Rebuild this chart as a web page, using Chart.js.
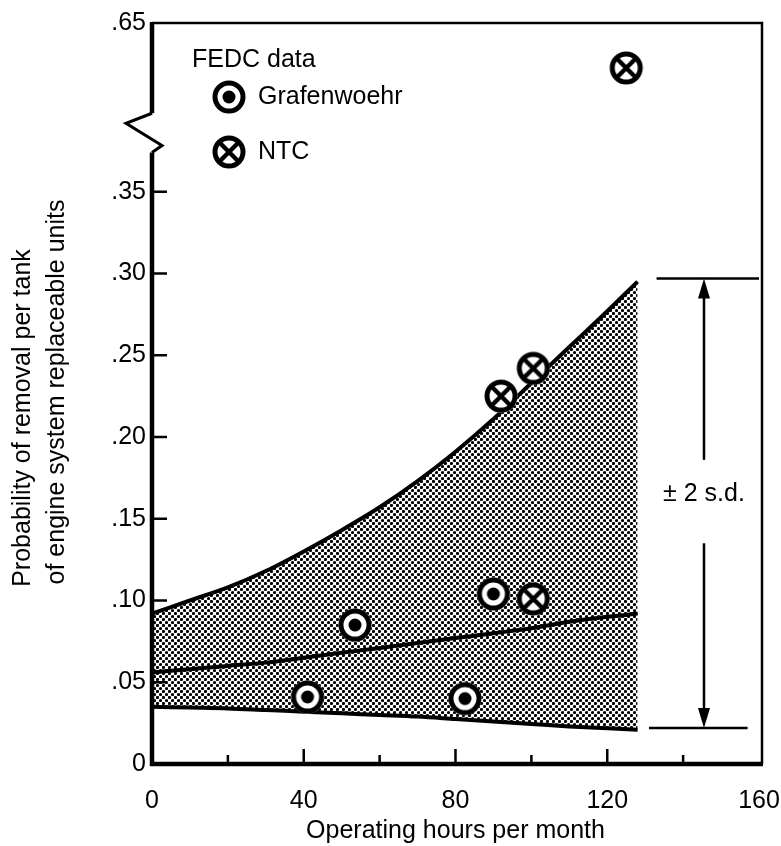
<!DOCTYPE html>
<html>
<head>
<meta charset="utf-8">
<title>Probability of removal per tank</title>
<script src="https://cdn.jsdelivr.net/npm/chart.js@4.4.0/dist/chart.umd.min.js"></script>
<style>
  html, body { margin: 0; padding: 0; background: #fff; }
  #wrap { width: 781px; height: 846px; }
</style>
</head>
<body>
<div id="wrap"><canvas id="myChart" width="781" height="846"></canvas></div>
<script>
/****************************** donnees ******************************/
const hours     = [0, 10, 20, 30, 40, 50, 60, 70, 80, 90, 100, 110, 120, 128];
const upperBand = [.092, .100, .108, .118, .130, .143, .157, .173, .191, .211, .233, .255, .277, .295];
const meanLine  = [.056, .058, .060, .062, .065, .068, .071, .074, .077, .080, .083, .087, .090, .092];
const lowerBand = [.035, .0345, .034, .033, .032, .031, .030, .029, .0275, .026, .0245, .023, .0218, .021];

const grafHours = [41, 53.5, 82.5, 90];
const grafProb  = [.041, .085, .040, .104];
const ntcHours  = [92, 100.5, 100.5, 125];
const ntcProb   = [.225, .242, .101, .57];

const xTicks      = [0, 40, 80, 120, 160];
const xMinorTicks = [20, 60, 100, 140];
const yTicks      = [0, .05, .10, .15, .20, .25, .30, .35, .65];
const yTickLabels = ['0', '.05', '.10', '.15', '.20', '.25', '.30', '.35', '.65'];

// plage +/- 2 s.d. a droite
const sdHigh = .297;
const sdLow = .022;
const sdLineHigh = [133, 160];
const sdLineLow = [131, 157];
const sdArrowX = 145.5;
const sdGap = [.186, .135];
const sdLabelAt = .165;

const xTitle = 'Operating hours per month';
const yTitle = ['Probability of removal per tank', 'of engine system replaceable units'];

/****************************** coupure axe y ******************************/
// au-dessus de .35 l'axe est comprime
const BREAK = .35, SQUEEZE = .344;
const brk = v => v <= BREAK ? v : BREAK + (v - BREAK) * SQUEEZE;
const yTop = brk(.65);

const FONT = "'Liberation Sans', Arial, Helvetica, sans-serif";
Chart.defaults.font.family = FONT;
Chart.defaults.font.size = 25;
Chart.defaults.color = '#000';

const pts = (xs, ys) => xs.map((v, i) => ({x: v, y: ys[i]}));

/****************************** symboles ******************************/
function makeMark(type) {
  const c = document.createElement('canvas');
  c.width = c.height = 36;
  const g = c.getContext('2d');
  g.fillStyle = '#fff';
  g.beginPath(); g.arc(18, 18, 16.5, 0, 2 * Math.PI); g.fill();
  g.strokeStyle = '#000';
  g.lineWidth = 5;
  g.beginPath(); g.arc(18, 18, 14, 0, 2 * Math.PI); g.stroke();
  if (type === 'dot') {
    g.fillStyle = '#000';
    g.beginPath(); g.arc(18, 18, 6.5, 0, 2 * Math.PI); g.fill();
  } else {
    const d = 9.5;
    g.lineWidth = 4.5;
    g.beginPath();
    g.moveTo(18 - d, 18 - d); g.lineTo(18 + d, 18 + d);
    g.moveTo(18 + d, 18 - d); g.lineTo(18 - d, 18 + d);
    g.stroke();
  }
  return c;
}
const markGraf = makeMark('dot');
const markNtc = makeMark('cross');

const canvas = document.getElementById('myChart');
function makeStipple() {
  const c = document.createElement('canvas');
  c.width = c.height = 6;
  const g = c.getContext('2d');
  g.fillStyle = '#fff';
  g.fillRect(0, 0, 6, 6);
  g.fillStyle = '#000';
  [[1.5, 1.5], [4.5, 4.5]].forEach(([px, py]) => {
    g.beginPath(); g.arc(px, py, 1.6, 0, 2 * Math.PI); g.fill();
  });
  return canvas.getContext('2d').createPattern(c, 'repeat');
}

/****************************** cadre, legende, annotations ******************************/
const cadre = {
  id: 'cadre',
  afterDraw(chart) {
    const {ctx, chartArea: a, scales: {x, y}} = chart;
    const line = (x1, y1, x2, y2) => { ctx.beginPath(); ctx.moveTo(x1, y1); ctx.lineTo(x2, y2); ctx.stroke(); };
    ctx.save();
    ctx.strokeStyle = '#000';
    ctx.fillStyle = '#000';

    // haut et droite
    ctx.lineWidth = 2.5;
    ctx.beginPath();
    ctx.moveTo(a.left, a.top); ctx.lineTo(a.right + 3, a.top); ctx.lineTo(a.right + 3, a.bottom);
    ctx.stroke();

    // axes
    ctx.lineWidth = 4.5;
    line(a.left - 2, a.bottom, a.right + 4, a.bottom);
    const yb1 = y.getPixelForValue(.398), yb2 = y.getPixelForValue(.374);
    line(a.left, a.top - 1, a.left, yb1);
    line(a.left, yb2, a.left, a.bottom + 2);
    ctx.lineWidth = 3;
    ctx.beginPath();
    ctx.moveTo(a.left, yb1);
    ctx.lineTo(a.left - 26, yb1 + 10);
    ctx.lineTo(a.left + 10, yb2 - 7);
    ctx.lineTo(a.left, yb2);
    ctx.stroke();

    // graduations vers l'interieur
    ctx.lineWidth = 2.5;
    yTicks.slice(1, -1).forEach(v => {
      const py = y.getPixelForValue(brk(v));
      line(a.left, py, a.left + 15, py);
    });
    xTicks.slice(1, -1).forEach(v => {
      const px = x.getPixelForValue(v);
      line(px, a.bottom, px, a.bottom - 15);
    });
    xMinorTicks.forEach(v => {
      const px = x.getPixelForValue(v);
      line(px, a.bottom, px, a.bottom - 9);
    });

    // titre axe y
    ctx.font = '25px ' + FONT;
    ctx.textBaseline = 'middle';
    ctx.textAlign = 'center';
    [[yTitle[0], 23, 418], [yTitle[1], 57, 392]].forEach(([t, px, py]) => {
      ctx.save();
      ctx.translate(px, py);
      ctx.rotate(-Math.PI / 2);
      ctx.fillText(t, 0, 0);
      ctx.restore();
    });

    // legende
    ctx.textAlign = 'left';
    ctx.fillText('FEDC data', 192, 60);
    ctx.drawImage(markGraf, 229 - 18, 97 - 18);
    ctx.fillText('Grafenwoehr', 258, 97);
    ctx.drawImage(markNtc, 229 - 18, 152 - 18);
    ctx.fillText('NTC', 258, 152);

    // +/- 2 s.d.
    const yHi = y.getPixelForValue(sdHigh), yLo = y.getPixelForValue(sdLow);
    ctx.lineWidth = 2.5;
    line(x.getPixelForValue(sdLineHigh[0]), yHi, x.getPixelForValue(sdLineHigh[1]), yHi);
    line(x.getPixelForValue(sdLineLow[0]), yLo, x.getPixelForValue(sdLineLow[1]), yLo);
    const ax = x.getPixelForValue(sdArrowX);
    line(ax, yHi + 18, ax, y.getPixelForValue(sdGap[0]));
    line(ax, y.getPixelForValue(sdGap[1]), ax, yLo - 18);
    ctx.beginPath();
    ctx.moveTo(ax, yHi); ctx.lineTo(ax - 6, yHi + 20); ctx.lineTo(ax + 6, yHi + 20);
    ctx.closePath(); ctx.fill();
    ctx.beginPath();
    ctx.moveTo(ax, yLo); ctx.lineTo(ax - 6, yLo - 20); ctx.lineTo(ax + 6, yLo - 20);
    ctx.closePath(); ctx.fill();
    ctx.textAlign = 'center';
    ctx.fillText('\u00b1 2 s.d.', ax, y.getPixelForValue(sdLabelAt));
    ctx.restore();
  }
};

/****************************** graphique ******************************/
const curve = {showLine: true, borderColor: '#000', borderWidth: 4, pointRadius: 0, cubicInterpolationMode: 'monotone', fill: false, order: 2};

const myChart = new Chart(canvas, {
  type: 'scatter',
  data: {
    datasets: [
      {label: 'Grafenwoehr', data: pts(grafHours, grafProb), pointStyle: markGraf, order: 1},
      {label: 'NTC', data: pts(ntcHours, ntcProb.map(brk)), pointStyle: markNtc, order: 1},
      {...curve, label: '+2 s.d.', data: pts(hours, upperBand), fill: 4, backgroundColor: makeStipple(), order: 3},
      {...curve, label: 'moyenne', data: pts(hours, meanLine)},
      {...curve, label: '-2 s.d.', data: pts(hours, lowerBand)}
    ]
  },
  options: {
    responsive: false,
    animation: false,
    layout: {padding: {left: 0, top: 23, right: 22, bottom: 0}},
    plugins: {legend: {display: false}, tooltip: {enabled: false}},
    scales: {
      x: {
        type: 'linear', min: 0, max: 160,
        afterBuildTicks: s => { s.ticks = xTicks.map(v => ({value: v})); },
        afterFit: s => { s.height = 82; s.paddingLeft = 0; s.paddingRight = 0; },
        grid: {display: false, drawTicks: false},
        border: {display: false},
        ticks: {padding: 22, maxRotation: 0},
        title: {display: true, text: xTitle, padding: 0}
      },
      y: {
        type: 'linear', min: 0, max: yTop,
        afterBuildTicks: s => { s.ticks = yTicks.map(v => ({value: brk(v)})); },
        afterFit: s => { s.width = 152; s.paddingTop = 0; s.paddingBottom = 0; },
        grid: {display: false, drawTicks: false},
        border: {display: false},
        ticks: {padding: 6, autoSkip: false, callback: (v, i) => yTickLabels[i]}
      }
    }
  },
  plugins: [cadre]
});
</script>
</body>
</html>
